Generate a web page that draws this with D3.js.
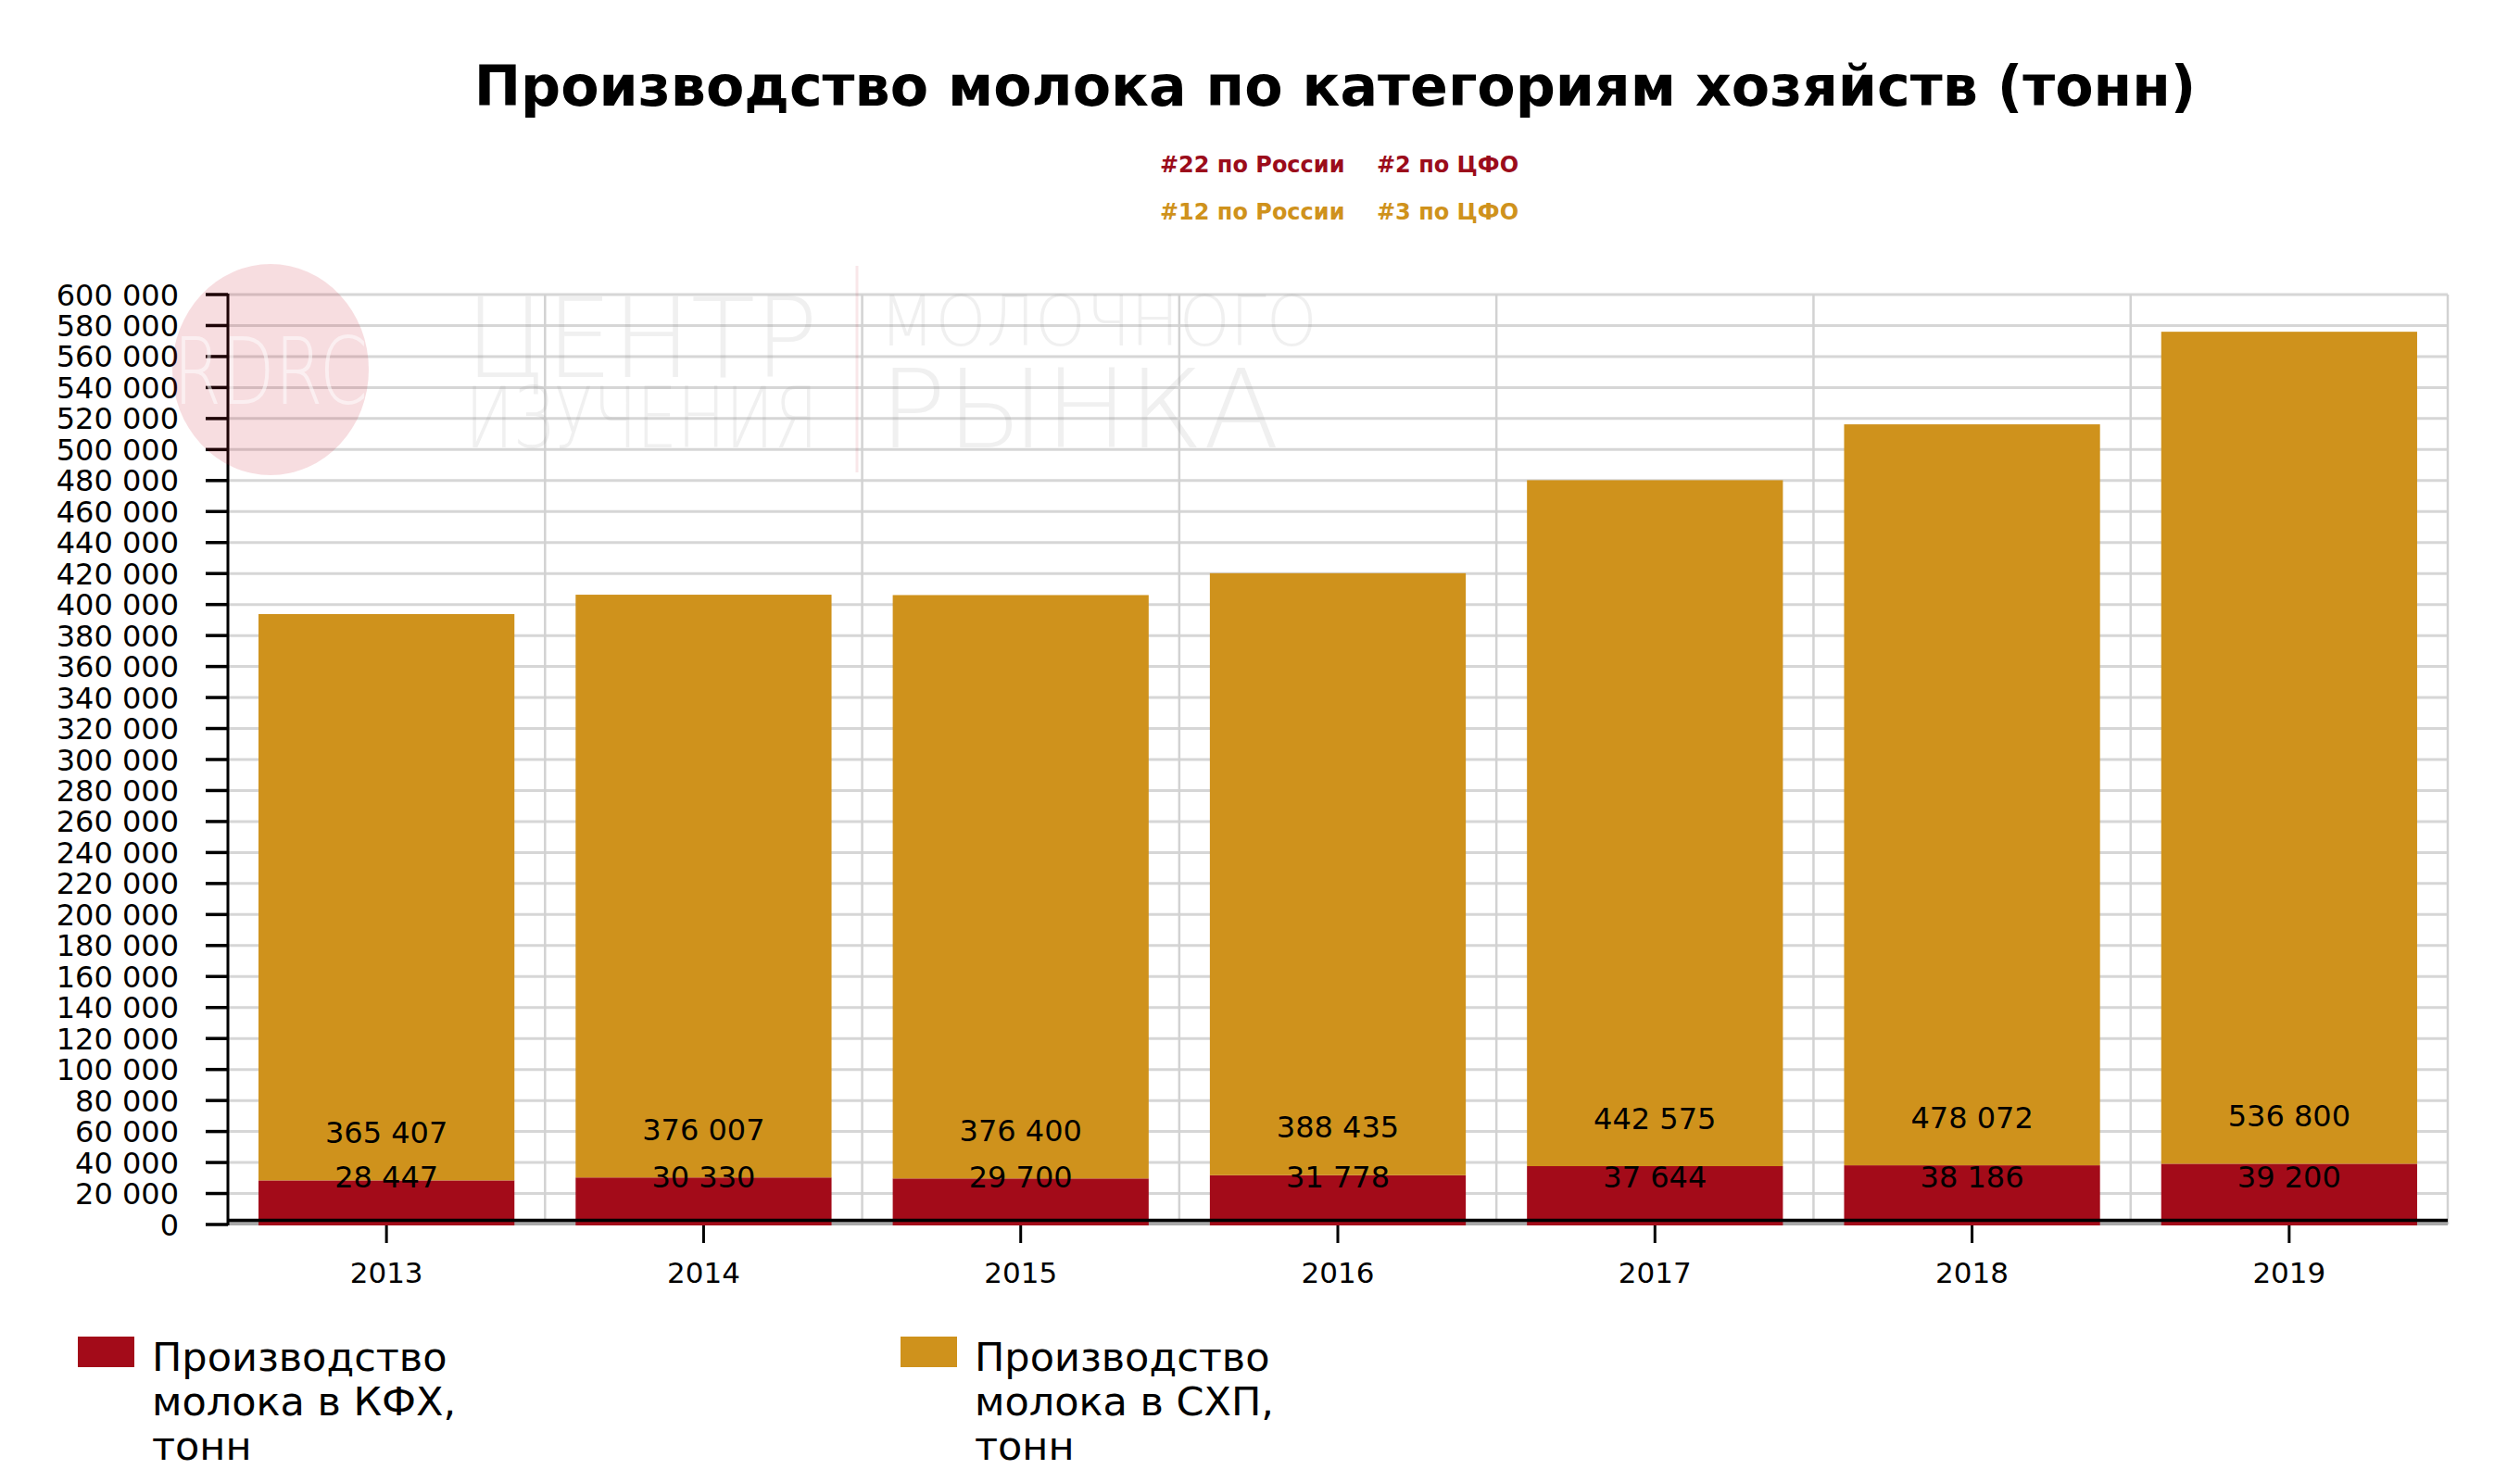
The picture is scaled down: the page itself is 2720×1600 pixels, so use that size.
<!DOCTYPE html>
<html>
<head>
<meta charset="utf-8">
<script src="https://cdn.jsdelivr.net/npm/d3@7/dist/d3.min.js"></script>
<style>
  html, body { margin: 0; padding: 0; background: #ffffff; }
  svg { display: block; font-family: "DejaVu Sans", Verdana, sans-serif; }
</style>
</head>
<body>
<script>
// ---- Data ----
const years = ["2013", "2014", "2015", "2016", "2017", "2018", "2019"];
const kfhValues = [28447, 30330, 29700, 31778, 37644, 38186, 39200];      // Производство молока в КФХ, тонн
const sxpValues = [365407, 376007, 376400, 388435, 442575, 478072, 536800]; // Производство молока в СХП, тонн
const seriesNames = ["Производство молока в КФХ, тонн", "Производство молока в СХП, тонн"];
const legendLines = [["Производство", "молока в КФХ,", "тонн"], ["Производство", "молока в СХП,", "тонн"]];
const titleText = "Производство молока по категориям хозяйств (тонн)";
const rankLines = [["#22 по России", "#2 по ЦФО"], ["#12 по России", "#3 по ЦФО"]];
const yMax = 600000;
const yStep = 20000;

// ---- Styles ----
const W = 2720, H = 1600;
const RED = "#a30b19", GOLD = "#cf921c";
const RANK_RED = "#9b0c1b", RANK_GOLD = "#cf921c";

const svg = d3.select("body").append("svg").attr("width", W).attr("height", H);

const plot = { left: 246, right: 2642, top: 318, bottom: 1322 };
const x = d3.scaleBand().domain(years).range([plot.left, plot.right]).padding(0);
const y = d3.scaleLinear().domain([0, yMax]).range([plot.bottom, plot.top]);
const yTicks = d3.range(0, yMax + 1, yStep);
const loc = d3.formatLocale({ decimal: ",", thousands: "\u00a0", grouping: [3], currency: ["", ""] });
const fmt = loc.format(",d");

// ---- Title ----
const title = svg.append("text")
  .attr("x", 1441).attr("y", 114)
  .attr("text-anchor", "middle")
  .attr("font-weight", "bold")
  .attr("font-size", 64)
  .attr("fill", "#000")
  .text(titleText);
const tl = title.node().getComputedTextLength();
title.attr("font-size", 64 * 1859 / tl);

// ---- Rank subtitles ----
const rankColors = [RANK_RED, RANK_GOLD];
const rankY = [186, 237];
rankLines.forEach((pair, i) => {
  svg.append("text").attr("x", 1252).attr("y", rankY[i])
    .attr("font-weight", "bold").attr("font-size", 24).attr("fill", rankColors[i]).text(pair[0]);
  svg.append("text").attr("x", 1486).attr("y", rankY[i])
    .attr("font-weight", "bold").attr("font-size", 24).attr("fill", rankColors[i]).text(pair[1]);
});

// ---- Grid ----
const grid = svg.append("g");
grid.selectAll("line.h").data(yTicks.filter(d => d > 0)).enter().append("line")
  .attr("x1", plot.left).attr("x2", plot.right)
  .attr("y1", d => y(d)).attr("y2", d => y(d))
  .attr("stroke", "#d6d6d6").attr("stroke-width", 3);
const vBounds = years.map(d => x(d) + x.bandwidth());
grid.selectAll("line.v").data(vBounds).enter().append("line")
  .attr("x1", d => d).attr("x2", d => d)
  .attr("y1", plot.top).attr("y2", plot.bottom)
  .attr("stroke", "#d2d2d2").attr("stroke-width", 2.5);
grid.append("line")
  .attr("x1", plot.left).attr("x2", plot.right)
  .attr("y1", y(0) - 1).attr("y2", y(0) - 1)
  .attr("stroke", "#a8a8a8").attr("stroke-width", 4);

// ---- Bars ----
const barW = x.bandwidth() * 0.807;
const off = (x.bandwidth() - barW) / 2;
const bars = svg.append("g");
bars.selectAll("rect.kfh").data(years).enter().append("rect")
  .attr("x", d => x(d) + off).attr("width", barW)
  .attr("y", (d, i) => y(kfhValues[i]))
  .attr("height", (d, i) => y(0) - y(kfhValues[i]) + 1)
  .attr("fill", RED);
bars.selectAll("rect.sxp").data(years).enter().append("rect")
  .attr("x", d => x(d) + off).attr("width", barW)
  .attr("y", (d, i) => y(kfhValues[i] + sxpValues[i]))
  .attr("height", (d, i) => y(kfhValues[i]) - y(kfhValues[i] + sxpValues[i]))
  .attr("fill", GOLD);

// ---- Axes ----
const axes = svg.append("g");
axes.append("line").attr("x1", plot.left).attr("x2", plot.left)
  .attr("y1", plot.top - 1).attr("y2", y(0) + 1)
  .attr("stroke", "#000").attr("stroke-width", 3);
axes.selectAll("line.yt").data(yTicks).enter().append("line")
  .attr("x1", 222).attr("x2", plot.left)
  .attr("y1", d => y(d)).attr("y2", d => y(d))
  .attr("stroke", "#000").attr("stroke-width", 3.5);
axes.selectAll("text.yl").data(yTicks).enter().append("text")
  .attr("x", 193).attr("y", d => y(d)).attr("dy", "0.36em")
  .attr("text-anchor", "end").attr("font-size", 32).attr("fill", "#000")
  .text(d => fmt(d));
axes.append("line").attr("x1", plot.left).attr("x2", plot.right)
  .attr("y1", y(0) - 4.5).attr("y2", y(0) - 4.5)
  .attr("stroke", "#000").attr("stroke-width", 3.5);
axes.selectAll("line.xt").data(years).enter().append("line")
  .attr("x1", d => x(d) + x.bandwidth() / 2).attr("x2", d => x(d) + x.bandwidth() / 2)
  .attr("y1", y(0) + 1).attr("y2", y(0) + 20)
  .attr("stroke", "#000").attr("stroke-width", 3);
axes.selectAll("text.xl").data(years).enter().append("text")
  .attr("x", d => x(d) + x.bandwidth() / 2).attr("y", 1385)
  .attr("text-anchor", "middle").attr("font-size", 31).attr("fill", "#000")
  .text(d => d);

// ---- Value labels ----
const labels = svg.append("g").attr("font-size", 32).attr("fill", "#000").attr("text-anchor", "middle");
labels.selectAll("text.k").data(years).enter().append("text")
  .attr("x", d => x(d) + x.bandwidth() / 2)
  .attr("y", () => y(0) - 52).attr("dy", "0.36em")
  .text((d, i) => fmt(kfhValues[i]));
labels.selectAll("text.s").data(years).enter().append("text")
  .attr("x", d => x(d) + x.bandwidth() / 2)
  .attr("y", (d, i) => y(kfhValues[i]) - 52).attr("dy", "0.36em")
  .text((d, i) => fmt(sxpValues[i]));

// ---- Watermark (logo) ----
const wm = svg.append("g");
wm.append("ellipse").attr("cx", 292).attr("cy", 399).attr("rx", 106).attr("ry", 114)
  .attr("fill", "#c81e32").attr("opacity", 0.15);
function fitWord(str, x0, yBase, fs, len, fill, op) {
  const t = wm.append("text").attr("x", 0).attr("y", 0)
    .attr("font-size", fs).attr("font-weight", 200).attr("fill", fill).attr("opacity", op).text(str);
  const w = t.node().getComputedTextLength();
  t.attr("transform", `translate(${x0},${yBase}) scale(${len / w},1)`);
  return t;
}
fitWord("RDRC", 187, 436, 100, 210, "#ffffff", 0.55);
fitWord("ЦЕНТР", 502, 407, 120, 381, "#888", 0.12);
fitWord("ИЗУЧЕНИЯ", 502, 483, 90, 381, "#888", 0.12);
fitWord("МОЛОЧНОГО", 949, 373, 74, 473, "#888", 0.12);
fitWord("РЫНКА", 949, 483, 118, 432, "#888", 0.12);
wm.append("line").attr("x1", 925).attr("x2", 925).attr("y1", 287).attr("y2", 510)
  .attr("stroke", "#c81e32").attr("stroke-width", 3).attr("opacity", 0.1);

// ---- Legend ----
const legendColors = [RED, GOLD];
const legendX = [84, 972];
seriesNames.forEach((name, i) => {
  const g = svg.append("g");
  g.append("rect").attr("x", legendX[i]).attr("y", 1443).attr("width", 61).attr("height", 33)
    .attr("fill", legendColors[i]);
  const t = g.append("text").attr("x", legendX[i] + 80).attr("y", 1480)
    .attr("font-size", 43).attr("fill", "#000");
  legendLines[i].forEach((ln, j) => {
    t.append("tspan").attr("x", legendX[i] + 80).attr("dy", j === 0 ? 0 : 48).text(ln);
  });
});
</script>
</body>
</html>
